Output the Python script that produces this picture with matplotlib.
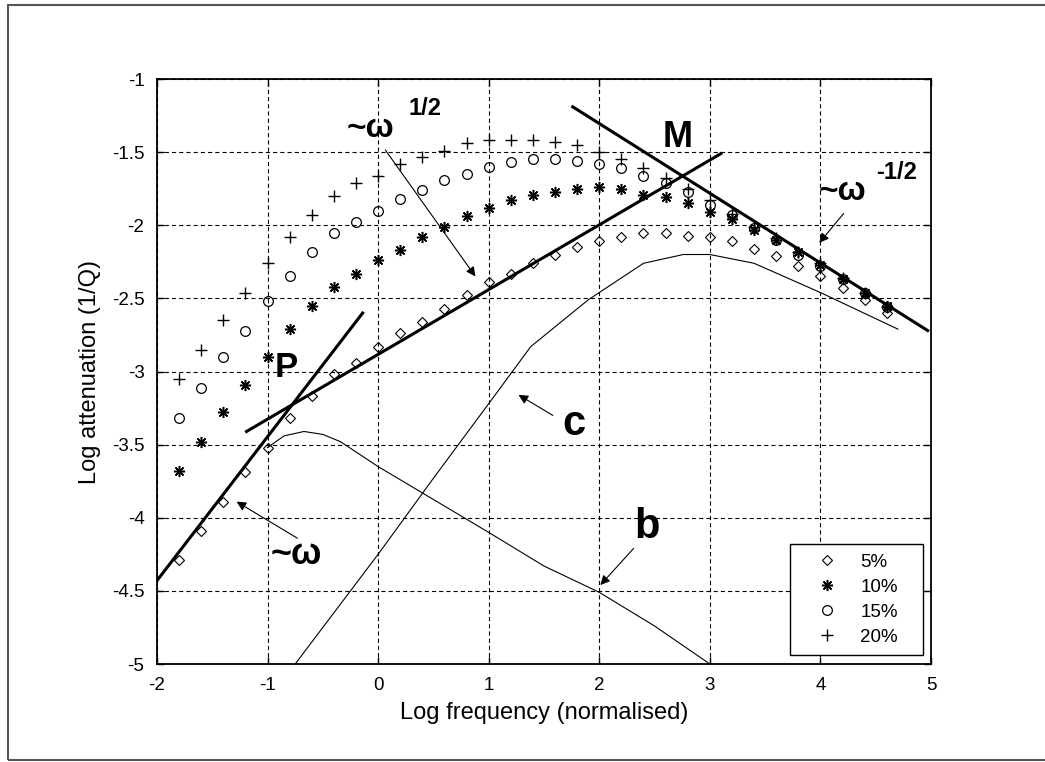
import numpy as np
import matplotlib
matplotlib.use("Agg")
import matplotlib.pyplot as plt
from matplotlib.patches import Rectangle

plt.rcParams["font.family"] = ["Liberation Sans", "DejaVu Sans"]
plt.rcParams["lines.scale_dashes"] = False
plt.rcParams["axes.unicode_minus"] = False

# Messdaten (Log-Frequenz, Log-Daempfung)
logf = [-1.8, -1.6, -1.4, -1.2, -1.0, -0.8, -0.6, -0.4, -0.2, 0.0, 0.2, 0.4, 0.6, 0.8,
        1.0, 1.2, 1.4, 1.6, 1.8, 2.0, 2.2, 2.4, 2.6, 2.8, 3.0, 3.2, 3.4, 3.6, 3.8, 4.0,
        4.2, 4.4, 4.6]
att_5 = [-4.29, -4.09, -3.89, -3.69, -3.52, -3.32, -3.17, -3.02, -2.94, -2.83, -2.74, -2.66,
         -2.57, -2.48, -2.39, -2.33, -2.26, -2.20, -2.15, -2.11, -2.08, -2.05, -2.05, -2.07,
         -2.08, -2.11, -2.16, -2.21, -2.28, -2.35, -2.43, -2.51, -2.60]
att_10 = [-3.68, -3.48, -3.28, -3.09, -2.90, -2.71, -2.55, -2.42, -2.33, -2.24, -2.17, -2.08,
          -2.01, -1.94, -1.88, -1.83, -1.79, -1.77, -1.75, -1.74, -1.75, -1.79, -1.81, -1.85,
          -1.91, -1.96, -2.03, -2.10, -2.18, -2.27, -2.37, -2.46, -2.55]
att_15 = [-3.32, -3.11, -2.90, -2.72, -2.52, -2.35, -2.18, -2.05, -1.98, -1.90, -1.82, -1.76,
          -1.69, -1.65, -1.60, -1.57, -1.55, -1.55, -1.56, -1.58, -1.61, -1.66, -1.71, -1.77,
          -1.86, -1.93, -2.02, -2.10, -2.20, -2.28, -2.37, -2.46, -2.56]
att_20 = [-3.05, -2.85, -2.65, -2.46, -2.26, -2.08, -1.93, -1.80, -1.71, -1.66, -1.58, -1.53,
          -1.49, -1.44, -1.42, -1.42, -1.42, -1.43, -1.45, -1.50, -1.55, -1.61, -1.68, -1.75,
          -1.83, -1.92, -2.01, -2.09, -2.18, -2.26, -2.36, -2.46, -2.56]

# Modellkurven b und c
b_x = [-1.0, -0.85, -0.67, -0.5, -0.34, 0.0, 0.4, 1.0, 1.5, 2.0, 2.5, 3.0]
b_y = [-3.52, -3.44, -3.41, -3.43, -3.48, -3.65, -3.83, -4.10, -4.33, -4.51, -4.74, -5.0]
c_x = [-0.75, 0.0, 0.5, 1.0, 1.38, 1.9, 2.4, 2.76, 3.0, 3.4, 4.0, 4.7]
c_y = [-5.0, -4.25, -3.73, -3.22, -2.83, -2.51, -2.26, -2.20, -2.20, -2.26, -2.46, -2.71]

# Asymptoten
omega_x, omega_y = [-2.0, -0.14], [-4.43, -2.60]
half_x, half_y = [-1.19, 3.10], [-3.41, -1.51]
mhalf_x, mhalf_y = [1.76, 4.97], [-1.19, -2.72]

fig = plt.figure(figsize=(10.45, 7.62), dpi=100)
ax = fig.add_axes([0.1502, 0.1286, 0.7407, 0.7677])

fig.patches.append(Rectangle((8 / 1045, 2 / 762), 1.2, 755 / 762, transform=fig.transFigure,
                             fill=False, edgecolor="#555555", lw=1.5))

ax.plot(logf, att_5, "D", mfc="none", mec="k", ms=5, mew=0.8, label="5%")
ax.plot(logf, att_10, ls="none", marker=(8, 2, 0), mec="k", ms=8, mew=1.1, label="10%")
ax.plot(logf, att_15, "o", mfc="none", mec="k", ms=7, mew=0.9, label="15%")
ax.plot(logf, att_20, "+", mec="k", ms=9, mew=1.0, label="20%")

ax.plot(b_x, b_y, "k-", lw=0.8)
ax.plot(c_x, c_y, "k-", lw=0.8)
ax.plot(omega_x, omega_y, "k-", lw=2.2)
ax.plot(half_x, half_y, "k-", lw=2.2)
ax.plot(mhalf_x, mhalf_y, "k-", lw=2.2)

pfeil = dict(arrowstyle="-|>", color="k", lw=0.8, mutation_scale=14, shrinkA=0, shrinkB=0)
ax.annotate("", xy=(0.88, -2.35), xytext=(0.065, -1.485), arrowprops=pfeil)
ax.annotate("", xy=(3.99, -2.12), xytext=(4.21, -1.92), arrowprops=pfeil)
ax.annotate("", xy=(1.27, -3.16), xytext=(1.58, -3.30), arrowprops=pfeil)
ax.annotate("", xy=(2.01, -4.46), xytext=(2.31, -4.21), arrowprops=pfeil)
ax.annotate("", xy=(-1.28, -3.89), xytext=(-0.73, -4.14), arrowprops=pfeil)

fett = dict(fontweight="bold", ha="center", va="center", color="k")
ax.text(-0.83, -2.97, "P", fontsize=25, **fett)
ax.text(2.71, -1.40, "M", fontsize=26, **fett)
ax.text(1.77, -3.36, "c", fontsize=30, **fett)
ax.text(2.43, -4.06, "b", fontsize=30, **fett)
ax.text(-0.07, -1.34, "~ω", fontsize=24, **fett)
ax.text(0.42, -1.20, "1/2", fontsize=17, **fett)
ax.text(4.20, -1.77, "~ω", fontsize=24, **fett)
ax.text(4.69, -1.64, "-1/2", fontsize=17, **fett)
ax.text(-0.74, -4.25, "~ω", fontsize=26, **fett)

ax.set_xlim(-2, 5)
ax.set_ylim(-5, -1)
ax.set_xticks(np.arange(-2, 6, 1))
ax.set_yticks(np.arange(-5, -0.9, 0.5))
ax.set_yticklabels(["%g" % v for v in np.arange(-5, -0.9, 0.5)])
ax.grid(True, color="k", ls=(0, (3, 2.2)), lw=0.8)
ax.tick_params(direction="in", length=5, width=1, top=True, right=True, labelsize=13.5)
ax.tick_params(axis="x", pad=9)
ax.tick_params(axis="y", pad=9)
for s in ax.spines.values():
    s.set_linewidth(1.3)

ax.set_xlabel("Log frequency (normalised)", fontsize=17, labelpad=6)
ax.set_ylabel("Log attenuation (1/Q)", fontsize=17, labelpad=8)

leg = ax.legend(loc="lower left", bbox_to_anchor=(0.818, 0.015, 0.172, 0.2), mode="expand",
                numpoints=1, fontsize=13.5, fancybox=False, edgecolor="k", framealpha=1,
                borderaxespad=0, borderpad=0.5, handlelength=2.9, labelspacing=0.42,
                handletextpad=0.35)
leg.get_frame().set_linewidth(1.0)

fig.savefig("out.png", dpi=100)
